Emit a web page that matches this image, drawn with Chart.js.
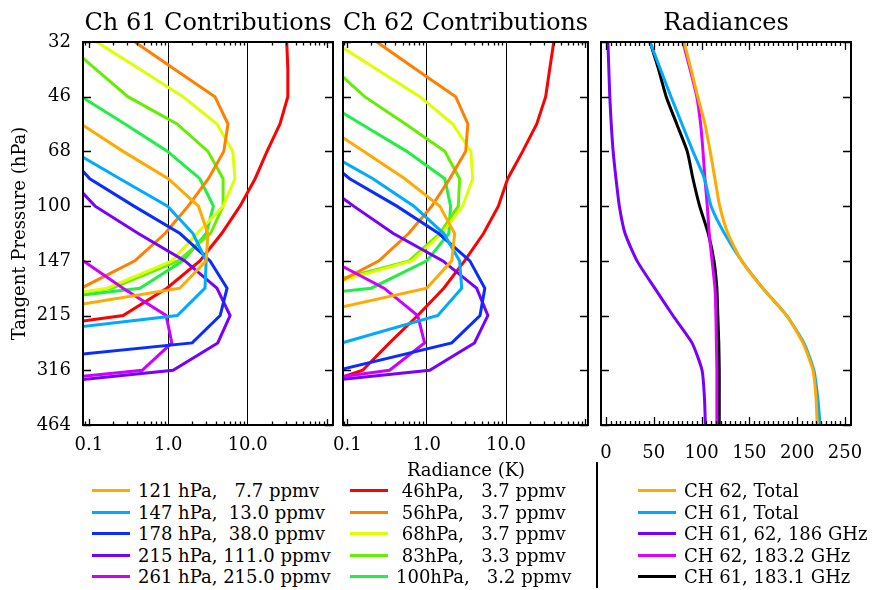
<!DOCTYPE html>
<html>
<head>
<meta charset="utf-8">
<script src="https://cdn.jsdelivr.net/npm/chart.js@4.4.1/dist/chart.umd.min.js"></script>
<style>
  body { margin: 0; background: #fff; width: 873px; height: 590px; position: relative; overflow: hidden;
         font-family: "DejaVu Serif", serif; color: #000; }
  canvas { position: absolute; top: 0; }
  .leg { position: absolute; top: 480px; font-size: 18px; }
  .leg div { height: 21.5px; display: flex; align-items: center; white-space: pre; }
  .leg i { display: inline-block; width: 38px; height: 3px; margin-right: 8px; }
  #xtitle { position: absolute; left: 366px; width: 200px; top: 459px; text-align: center; font-size: 18px; }
  #divider { position: absolute; left: 596px; top: 462px; width: 1.5px; height: 126px; background: #000; }
</style>
</head>
<body>
<canvas id="c1" width="340" height="460" style="left:0px"></canvas>
<canvas id="c2" width="260" height="460" style="left:333px"></canvas>
<canvas id="c3" width="277" height="460" style="left:596px"></canvas>
<div id="xtitle">Radiance (K)</div>
<div id="divider"></div>
<div class="leg" id="leg1" style="left:92px"></div>
<div class="leg" id="leg2" style="left:350px"></div>
<div class="leg" id="leg3" style="left:638px"></div>

<script>
// pressure levels (hPa) the contributions are given on
const pressureLevels = [31.6, 38.3, 46.4, 56.2, 68.1, 82.5, 100, 121.2, 146.8, 177.8, 215.4, 261.0, 316.2, 383.1, 464.2];
const pressureTicks = [31.62, 46.42, 68.13, 100, 146.78, 215.44, 316.23, 464.16];
const pressureTickLabels = ['32', '46', '68', '100', '147', '215', '316', '464'];

const logTicks = [0.1, 1, 10];
const logTickLabels = ['0.1', '1.0', '10.0'];
const radTicks = [0, 50, 100, 150, 200, 250];

const N = null;
// Ch 61 contributions (K), one value per pressure level
const ch61_121 = [N, N, N, 0.08, 0.27, 1.0, 2.4, 3.16, 3.0, 1.4, 0.011, N, N, N, N];
const ch61_147 = [N, N, N, N, 0.063, 0.246, 0.98, 2.05, 3.0, 2.9, 1.3, 0.0014, N, N, N];
const ch61_178 = [N, N, N, N, 0.05, 0.103, 0.37, 1.41, 3.36, 5.5, 4.5, 2.0, 0.0008, N, N];
const ch61_215 = [N, N, N, N, N, 0.057, 0.12, 0.42, 1.62, 4.1, 6.0, 4.2, 1.15, 0.0005, N];
const ch61_261 = [N, N, N, N, N, N, N, 0.01, 0.085, 0.27, 0.94, 1.11, 0.47, 0.0002, N];
const ch61_46  = [31, 32, 32, 25.5, 17.5, 12.4, 8.0, 4.7, 2.5, 0.96, 0.27, 0.00075, N, N, N];
const ch61_56  = [0.38, 1.2, 3.87, 5.65, 5.0, 3.2, 1.78, 0.91, 0.38, 0.08, 0.02, N, N, N, N];
const ch61_68  = [0.126, 0.44, 1.53, 4.1, 6.5, 6.9, 4.9, 2.3, 1.11, 0.17, 0.001, N, N, N, N];
const ch61_83  = [0.049, 0.123, 0.31, 1.29, 3.16, 4.9, 4.9, 3.4, 1.33, 0.195, 0.001, N, N, N, N];
const ch61_100 = [N, 0.03, 0.08, 0.285, 0.98, 2.5, 3.7, 3.0, 1.53, 0.44, 0.00065, N, N, N, N];

// Ch 62 contributions (K)
const ch62_121 = [N, N, N, 0.048, 0.16, 0.53, 1.46, 2.25, 2.07, 1.0, 0.028, N, N, N, N];
const ch62_147 = [N, N, N, N, 0.052, 0.21, 0.69, 1.64, 2.6, 2.76, 1.38, 0.085, 0.001, N, N];
const ch62_178 = [N, N, N, N, 0.04, 0.107, 0.42, 1.42, 3.5, 5.4, 4.7, 2.07, 0.075, 0.001, N];
const ch62_215 = [N, N, N, N, N, 0.04, 0.12, 0.38, 1.6, 4.26, 5.9, 4.0, 1.09, 0.0005, N];
const ch62_261 = [N, N, N, N, N, N, N, 0.01, 0.064, 0.29, 0.77, 0.94, 0.34, 0.001, N];
const ch62_46  = [40, 35.5, 31.6, 24.4, 16.2, 10.5, 8.0, 5.2, 3.0, 1.64, 0.77, 0.34, 0.156, 0.014, N];
const ch62_56  = [0.235, 0.73, 2.32, 3.3, 3.1, 1.95, 1.16, 0.59, 0.25, 0.055, N, N, N, N, N];
const ch62_68  = [0.067, 0.234, 0.82, 2.13, 3.6, 3.8, 2.84, 1.55, 0.65, 0.038, N, N, N, N, N];
const ch62_83  = [N, 0.069, 0.165, 0.54, 1.69, 2.6, 2.5, 1.46, 0.6, 0.03, N, N, N, N, N];
const ch62_100 = [N, N, 0.04, 0.149, 0.56, 1.69, 2.0, 1.9, 1.0, 0.2, 0.0001, N, N, N, N];

// radiances (K)
const radCh62Total = [81.6, 89, 96, 103.5, 109, 114, 119, 127.6, 142, 164, 189, 206, 216.5, 219.7, 221];
const radCh61Total = [46, 57, 68, 79.5, 91, 103, 110, 124, 142, 164, 189, 207, 217.5, 221.5, 224];
const radCh186     = [2, 3, 4, 5.5, 7.5, 10.5, 14, 20, 32.5, 51, 70, 90, 100.5, 103, 104];
const radCh62_1832 = [80.5, 88, 95, 99, 101.5, 103.5, 106, 108, 111, 114, 115, 115.5, 116, 116, 116];
const radCh61_1831 = [46, 55, 63, 74, 85, 91, 98, 107, 113, 116, 117, 118, 118.5, 118.5, 118.5];

const contribNames = ['121 hPa,   7.7 ppmv', '147 hPa,  13.0 ppmv', '178 hPa,  38.0 ppmv', '215 hPa, 111.0 ppmv', '261 hPa, 215.0 ppmv',
                      ' 46hPa,   3.7 ppmv', ' 56hPa,   3.7 ppmv', ' 68hPa,   3.7 ppmv', ' 83hPa,   3.3 ppmv', '100hPa,   3.2 ppmv'];
const contribColors = ['#ffaa00', '#00aaff', '#0a2cff', '#7700ff', '#cc00ff',
                       '#ff0000', '#ff8000', '#ddff00', '#66ee00', '#22ee44'];
const ch61Series = [ch61_121, ch61_147, ch61_178, ch61_215, ch61_261, ch61_46, ch61_56, ch61_68, ch61_83, ch61_100];
const ch62Series = [ch62_121, ch62_147, ch62_178, ch62_215, ch62_261, ch62_46, ch62_56, ch62_68, ch62_83, ch62_100];

const radNames = ['CH 62, Total', 'CH 61, Total', 'CH 61, 62, 186 GHz', 'CH 62, 183.2 GHz', 'CH 61, 183.1 GHz'];
const radColors = ['#ffaa00', '#00aaff', '#7700ff', '#dd00ff', '#000000'];
const radSeries = [radCh62Total, radCh61Total, radCh186, radCh62_1832, radCh61_1831];

Chart.defaults.font.family = '"DejaVu Serif", serif';
Chart.defaults.font.size = 18;
Chart.defaults.color = '#000';

// box round the plot with inward tick marks, IDL style
const framePlugin = {
  id: 'frame',
  afterDatasetsDraw(chart, args, o) {
    const { ctx, chartArea: a } = chart;
    const x = chart.scales.x, y = chart.scales.y;
    ctx.save();
    ctx.strokeStyle = '#000';
    ctx.lineWidth = 1.3;
    ctx.beginPath();
    const vtick = (v, len) => {
      const px = Math.round(x.getPixelForValue(v)) + 0.5;
      if (px <= a.left + 1 || px >= a.right - 1) return;
      ctx.moveTo(px, a.bottom); ctx.lineTo(px, a.bottom - len);
      ctx.moveTo(px, a.top); ctx.lineTo(px, a.top + len);
    };
    o.xMajor.forEach(v => vtick(v, o.majorLen));
    o.xMinor.forEach(v => vtick(v, o.minorLen));
    pressureTicks.forEach(v => {
      const py = Math.round(y.getPixelForValue(v)) + 0.5;
      ctx.moveTo(a.left, py); ctx.lineTo(a.left + 8, py);
      ctx.moveTo(a.right, py); ctx.lineTo(a.right - 8, py);
    });
    ctx.stroke();
    ctx.lineWidth = 2;
    ctx.strokeRect(a.left, a.top, a.right - a.left, a.bottom - a.top);
    ctx.restore();
  }
};

const logMinor = [];
[0.01, 0.1, 1, 10].forEach(d => { for (let k = 2; k <= 9; k++) logMinor.push(d * k); });
const linMinor = [];
for (let v = -5; v <= 255; v += 5) if (v % 50 !== 0) linMinor.push(v);

function series(label, vals, color, tension) {
  return {
    label,
    data: pressureLevels.map((p, i) => ({ x: vals[i], y: p })).filter(d => d.x !== null),
    borderColor: color, backgroundColor: color, borderWidth: 3,
    pointRadius: 0, showLine: true, tension: tension, fill: false
  };
}

function yAxis(withLabels) {
  const axis = {
    type: 'logarithmic', reverse: true, min: 31.62, max: 464.2,
    display: withLabels,
    afterBuildTicks: s => { s.ticks = pressureTicks.map(v => ({ value: v })); },
    grid: { display: false }, border: { display: false },
    ticks: { autoSkip: false, padding: 4, callback: (v, i) => pressureTickLabels[i] },
    title: { display: true, text: 'Tangent Pressure (hPa)', padding: { top: 10, bottom: 0 } }
  };
  if (withLabels) axis.afterFit = s => { s.width = 83; };
  return axis;
}

// x labels may hang past the plot box; keep the box where it is
function fixX(s) {
  s.height = 35;
  s.paddingLeft = 0;
  s.paddingRight = 0;
}

function logXAxis(min, max) {
  return {
    type: 'logarithmic', min, max,
    afterBuildTicks: s => { s.ticks = logTicks.map(v => ({ value: v })); },
    afterFit: fixX,
    grid: { color: c => (c.tick && (c.tick.value === 1 || c.tick.value === 10)) ? '#000' : 'rgba(0,0,0,0)', lineWidth: 1, drawTicks: false },
    border: { display: false },
    ticks: { autoSkip: false, maxRotation: 0, padding: 10, callback: (v, i) => logTickLabels[i] }
  };
}

function linXAxis() {
  return {
    type: 'linear', min: -5.2, max: 256.3,
    afterBuildTicks: s => { s.ticks = radTicks.map(v => ({ value: v })); },
    afterFit: fixX,
    grid: { display: false }, border: { display: false },
    ticks: { autoSkip: false, maxRotation: 0, padding: 10, callback: v => String(v) }
  };
}

function makePanel(id, title, datasets, xAxis, withY, padding, frame) {
  return new Chart(document.getElementById(id), {
    type: 'scatter',
    data: { datasets },
    options: {
      responsive: false, animation: false, events: [],
      layout: { padding },
      plugins: {
        legend: { display: false }, tooltip: { enabled: false },
        title: { display: true, text: title, fullSize: false, font: { size: 24, weight: 'normal' }, padding: { top: 9, bottom: 4.2 } },
        frame
      },
      scales: { x: xAxis, y: yAxis(withY) }
    },
    plugins: [framePlugin]
  });
}

const logFrame = { xMajor: [0.1, 100], xMinor: logMinor, majorLen: 6, minorLen: 3.5 };

makePanel('c1', 'Ch 61 Contributions',
  ch61Series.map((s, i) => series(contribNames[i], s, contribColors[i], 0)),
  logXAxis(0.0845, 118.5), true, { left: 0, right: 7, top: 0, bottom: 0 }, logFrame);

makePanel('c2', 'Ch 62 Contributions',
  ch62Series.map((s, i) => series(contribNames[i], s, contribColors[i], 0)),
  logXAxis(0.088, 108), false, { left: 10, right: 5, top: 0, bottom: 0 }, logFrame);

makePanel('c3', 'Radiances',
  radSeries.map((s, i) => series(radNames[i], s, radColors[i], 0.2)),
  linXAxis(), false, { left: 5, right: 22, top: 0, bottom: 0 },
  { xMajor: radTicks, xMinor: linMinor, majorLen: 8, minorLen: 4 });

// legends under the panels
function fillLegend(el, names, colors) {
  el.innerHTML = names.map((n, i) => `<div><i style="background:${colors[i]}"></i>${n}</div>`).join('');
}
fillLegend(document.getElementById('leg1'), contribNames.slice(0, 5), contribColors.slice(0, 5));
fillLegend(document.getElementById('leg2'), contribNames.slice(5), contribColors.slice(5));
fillLegend(document.getElementById('leg3'), radNames, radColors);
</script>
</body>
</html>
